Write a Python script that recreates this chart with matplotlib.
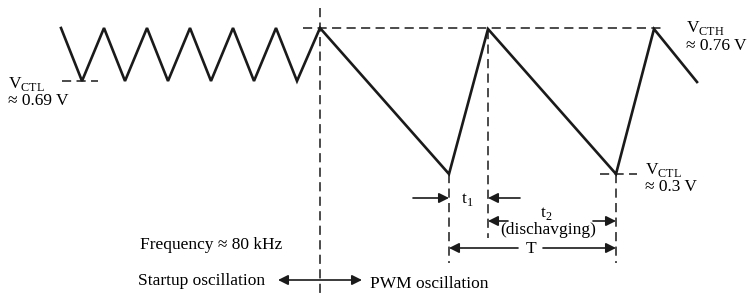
import matplotlib.pyplot as plt

# waveform vertices (pixel coordinates, y down)
startup_x = [61, 82, 104, 125, 147, 168, 190, 211, 233, 254, 276, 297, 320]
startup_y = [28, 81, 28, 81, 28, 81, 28, 81, 28, 81, 28, 81, 28]
pwm_x = [320, 449, 488, 616, 654, 697]
pwm_y = [28, 174, 29, 174, 29, 82]

plt.rcParams['font.family'] = ['Liberation Serif', 'DejaVu Serif']
plt.rcParams['mathtext.fontset'] = 'custom'
plt.rcParams['mathtext.rm'] = 'Liberation Serif'
fs = 12.5

fig = plt.figure(figsize=(7.51, 2.94), dpi=100)
ax = fig.add_axes([0, 0, 1, 1])
ax.set_xlim(0, 751)
ax.set_ylim(294, 0)
ax.axis('off')

ax.plot(startup_x + pwm_x[1:], startup_y + pwm_y[1:], color='#1a1a1a', lw=1.9,
        solid_joinstyle='miter')

dash = dict(color='#1a1a1a', lw=1.1, ls=(0, (6, 3.5)))
ax.plot([320, 320], [8, 294], **dash)
ax.plot([303, 665], [28, 28], **dash)
ax.plot([62, 98], [81, 81], **dash)
ax.plot([600, 637], [174, 174], **dash)
ax.plot([449, 449], [174, 263], **dash)
ax.plot([616, 616], [174, 263], **dash)
ax.plot([488, 488], [30, 238], **dash)


def arrow(x0, x1, y):
    ax.annotate('', xy=(x1, y), xytext=(x0, y),
                arrowprops=dict(arrowstyle='-|>', color='#1a1a1a', lw=1.2,
                                mutation_scale=15, shrinkA=0, shrinkB=0))


arrow(413, 449, 198)
arrow(520, 488, 198)
arrow(508, 488, 221)
arrow(593, 616, 221)
arrow(518, 449, 248)
arrow(543, 616, 248)
ax.annotate('', xy=(278, 280), xytext=(362, 280),
            arrowprops=dict(arrowstyle='<|-|>', color='#1a1a1a', lw=1.2,
                            mutation_scale=15, shrinkA=0, shrinkB=0))

ax.text(8, 84, r'V$_{\mathregular{CTL}}$', fontsize=fs, va='center', ha='left')
ax.text(8, 101, '≈ 0.69 V', fontsize=fs, va='center', ha='left')
ax.text(686, 28, r'V$_{\mathregular{CTH}}$', fontsize=fs, va='center', ha='left')
ax.text(686, 46, '≈ 0.76 V', fontsize=fs, va='center', ha='left')
ax.text(645, 170, r'V$_{\mathregular{CTL}}$', fontsize=fs, va='center', ha='left')
ax.text(645, 187, '≈ 0.3 V', fontsize=fs, va='center', ha='left')
ax.text(467, 199, r't$_{\mathregular{1}}$', fontsize=fs, va='center', ha='center')
ax.text(546, 214, r't$_{\mathregular{2}}$', fontsize=fs, va='center', ha='center')
ax.text(548, 230, '(dischavging)', fontsize=fs, va='center', ha='center')
ax.text(531, 249, 'T', fontsize=fs, va='center', ha='center')
ax.text(140, 245, 'Frequency ≈ 80 kHz', fontsize=fs, va='center', ha='left')
ax.text(138, 281, 'Startup oscillation', fontsize=fs, va='center', ha='left')
ax.text(370, 284, 'PWM oscillation', fontsize=fs, va='center', ha='left')

fig.savefig('out.png', dpi=100)
